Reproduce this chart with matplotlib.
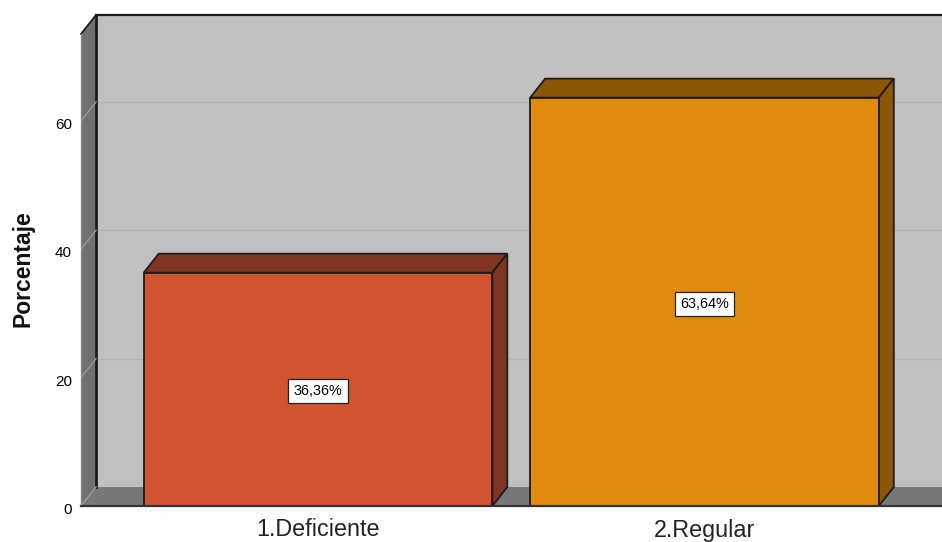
import matplotlib
matplotlib.use('Agg')

import matplotlib.pyplot as plt
from matplotlib.patches import Polygon
from matplotlib.transforms import ScaledTranslation

plt.rcParams['font.family'] = ['Liberation Sans', 'DejaVu Sans']

categories = ['1.Deficiente', '2.Regular']
percentages = [36.36, 63.64]
y_ticks = [0, 20, 40, 60]

FIG_W, FIG_H = 942, 542
# front plane of the 3D box, in pixels
LEFT, RIGHT, BOTTOM, TOP = 81, 942, 506, 34
PX_PER_UNIT = 6.417
PX_PER_CAT = 386.5
BAR_W = 0.902

front_colors = ['#d05430', '#e08a0e']
top_colors = ['#803421', '#8a5608']
EDGE = '#1c1c1c'

fig = plt.figure(figsize=(FIG_W / 100, FIG_H / 100), dpi=100)
ax = fig.add_axes([LEFT / FIG_W, 1 - BOTTOM / FIG_H,
                   (RIGHT - LEFT) / FIG_W, (BOTTOM - TOP) / FIG_H])
x0 = (LEFT - 318) / PX_PER_CAT
x1 = (RIGHT - 318) / PX_PER_CAT
y_top = (BOTTOM - TOP) / PX_PER_UNIT
ax.set_xlim(x0, x1)
ax.set_ylim(0, y_top)

# depth offset of the box
dx = 15 / PX_PER_CAT
dy = 19 / PX_PER_UNIT


def poly(pts, fc, ec=EDGE, lw=1.3, z=1):
    ax.add_patch(Polygon(pts, closed=True, facecolor=fc, edgecolor=ec,
                         linewidth=lw, zorder=z, clip_on=False, joinstyle='miter'))


# back wall, side wall and floor
poly([(x0 + dx, dy), (x1 + dx, dy), (x1 + dx, y_top + dy), (x0 + dx, y_top + dy)],
     '#c0c0c0', ec='none', z=1)
ax.plot([x0 + dx, x1 + dx], [y_top + dy, y_top + dy], color=EDGE, lw=1.6, zorder=2, clip_on=False)
poly([(x0, 0), (x0 + dx, dy), (x0 + dx, y_top + dy), (x0, y_top)], '#707070', ec='none', z=2)
poly([(x0, 0), (x1, 0), (x1 + dx, dy), (x0 + dx, dy)], '#787878', ec='none', z=2)
ax.plot([x0 + dx, x0 + dx], [dy, y_top + dy], color=EDGE, lw=2, zorder=3, clip_on=False)
ax.plot([x0, x0 + dx], [y_top, y_top + dy], color=EDGE, lw=1.3, zorder=3, clip_on=False)
ax.plot([x0, x0], [0, y_top], color='#8a8a8a', lw=1, zorder=3, clip_on=False)

# grid lines on back wall and side wall
for t in y_ticks[1:]:
    ax.plot([x0 + dx, x1 + dx], [t + dy, t + dy], color='#b4b4b4', lw=1, zorder=2)
    ax.plot([x0, x0 + dx], [t, t + dy], color='#9a9a9a', lw=1, zorder=3)
ax.plot([x0, x0 + dx], [0, dy], color='#9a9a9a', lw=1, zorder=3)

# bars
xs = list(range(len(categories)))
ax.bar(xs, percentages, width=BAR_W, color=front_colors, edgecolor=EDGE, linewidth=1.3, zorder=5)
for x, v, c in zip(xs, percentages, top_colors):
    l, r = x - BAR_W / 2, x + BAR_W / 2
    poly([(l, v), (r, v), (r + dx, v + dy), (l + dx, v + dy)], c, z=4)
    poly([(r, 0), (r + dx, dy), (r + dx, v + dy), (r, v)], c, z=4)
    ax.text(x, v / 2 - 0.3, f'{v:.2f}%'.replace('.', ','), ha='center', va='center',
            fontsize=10.4, color='black', zorder=6,
            bbox=dict(boxstyle='square,pad=0.36', facecolor='white', edgecolor='#222222', linewidth=0.9))

ax.plot([x0, x1], [0, 0], color='#333333', lw=1.6, zorder=6, clip_on=False)

for s in ax.spines.values():
    s.set_visible(False)
ax.set_yticks(y_ticks)
ax.set_xticks(xs)
ax.set_xticklabels(categories, fontsize=16.8, color='#222222')
ax.tick_params(axis='x', length=0, pad=9)
ax.tick_params(axis='y', length=0, pad=6.5, labelsize=11)
# labels sit a little below their grid level
shift = ScaledTranslation(0, -3 / 72, fig.dpi_scale_trans)
for lab in ax.get_yticklabels():
    lab.set_verticalalignment('center')
    lab.set_transform(lab.get_transform() + shift)
fig.text(23 / FIG_W, 1 - 269 / FIG_H, 'Porcentaje', rotation=90, ha='center', va='center',
         fontsize=16.5, fontweight='bold', color='#111111')

fig.savefig('out.png', dpi=100)
